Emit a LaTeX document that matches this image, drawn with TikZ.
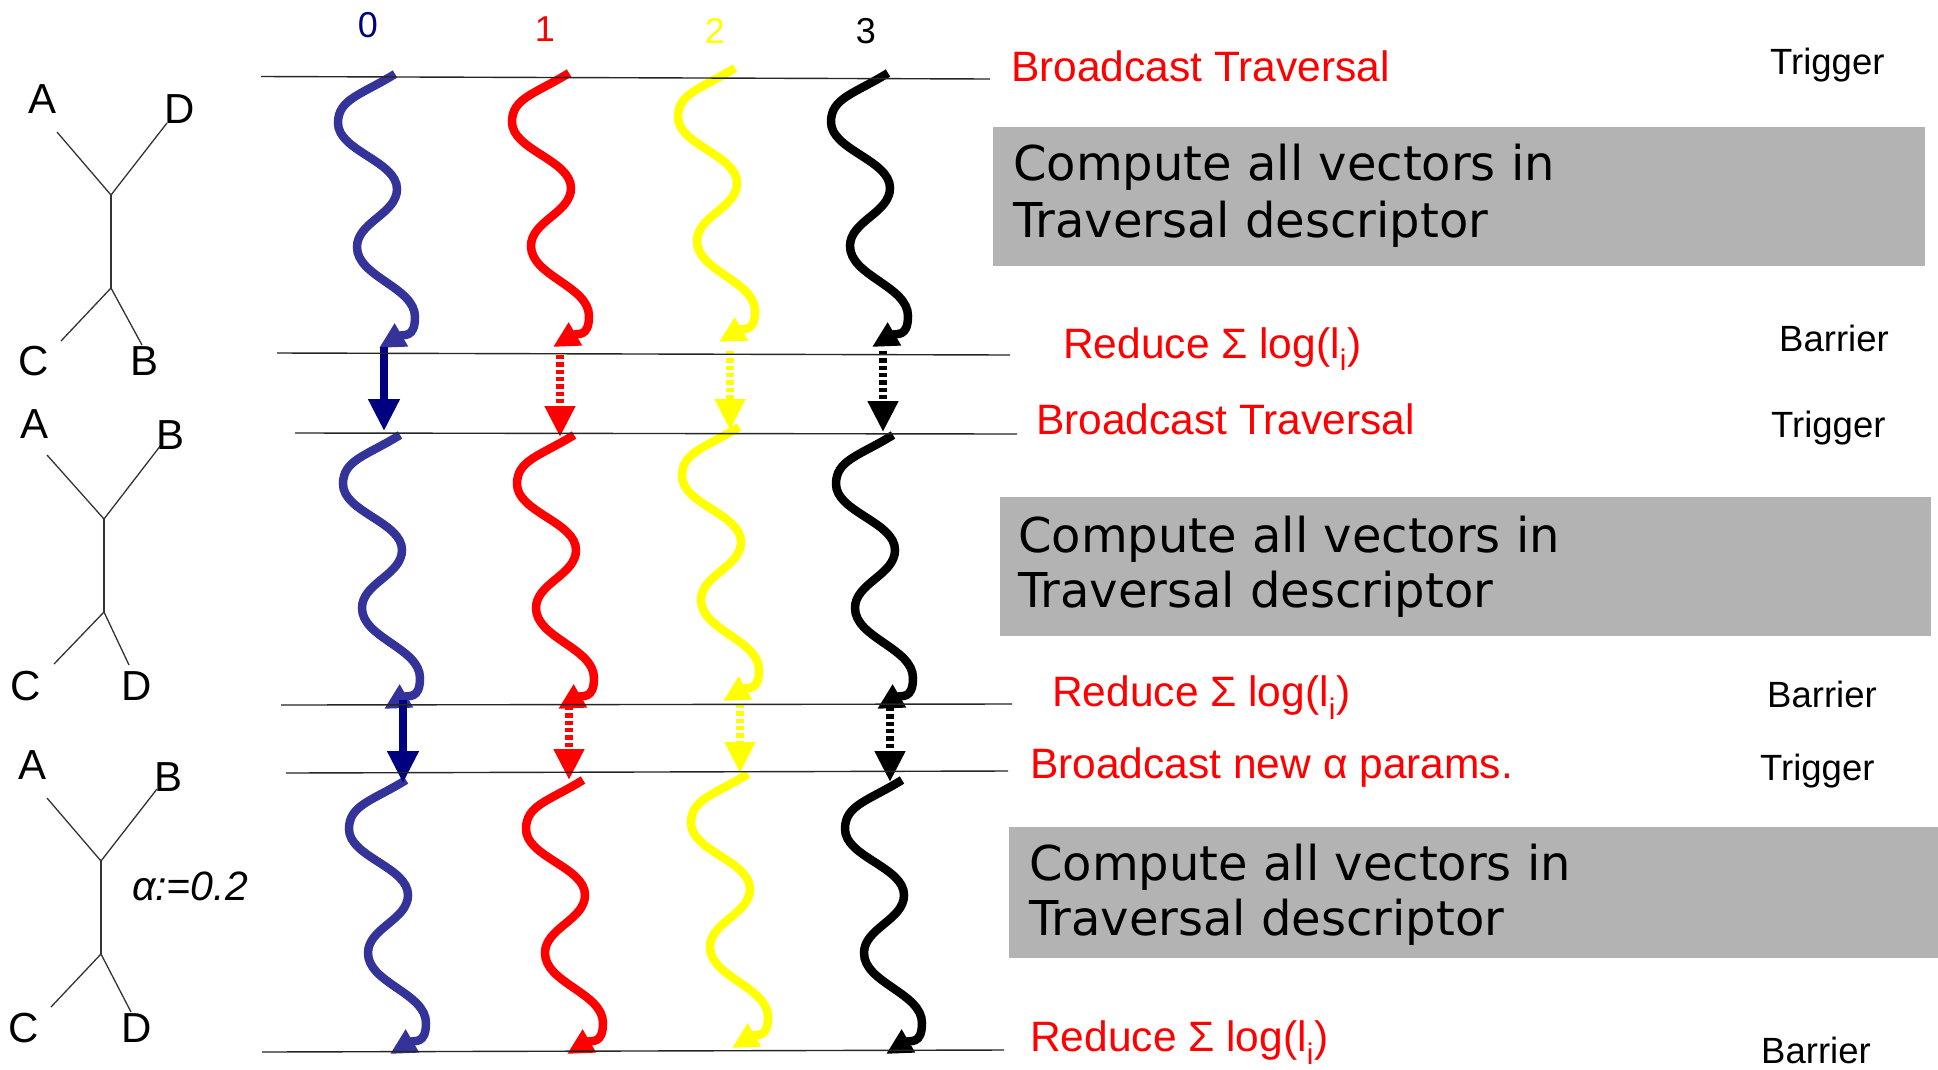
\documentclass[tikz,border=0pt]{standalone}
\usepackage{fontspec}
\setmainfont{Liberation Sans}
\newfontfamily\boxfont{DejaVu Sans}
\usetikzlibrary{arrows.meta}

\definecolor{waveblue}{HTML}{333399}
\definecolor{navyarrow}{HTML}{000080}
\definecolor{boxgray}{HTML}{B3B3B3}
\definecolor{pureyellow}{HTML}{FFFF00}
\definecolor{purered}{HTML}{FF0000}

% One compute phase of a process: a wavy arrow starting at coordinate #2
\newcommand\wavearrow[2]{%
  \begin{scope}[shift={(#2)}]
    \draw[wave,color=#1] (#2)
      .. controls (-34,21) and (-57,25) .. (-57,49)
      .. controls (-57,77) and (2,87) .. (2,115)
      .. controls (2,140) and (-38,148) .. (-38,173)
      .. controls (-38,203) and (20,213) .. (20,243)
      .. controls (20,265) and (8,260) .. (-16,274);
  \end{scope}}

\begin{document}
\begin{tikzpicture}[x=1pt,y=-1pt,
  hline/.style={line width=1.4pt, draw=black!85},
  tree/.style={line width=1.3pt, draw=black!80},
  wave/.style={line width=8.5pt, -{Triangle[length=26pt,width=25pt]}},
  solidarrow/.style={line width=7.5pt, -{Triangle[length=32pt,width=30pt]}},
  dotarrow/.style={line width=7.5pt, dash pattern=on 4.3pt off 3pt, -{Triangle[length=31pt,width=29pt]}},
  phase/.style={font=\fontsize{42.5}{50}\selectfont, text=purered, inner sep=0pt, anchor=base west},
  tag/.style={font=\fontsize{36.5}{43}\selectfont, inner sep=0pt, anchor=base west},
  colnum/.style={font=\fontsize{36}{42}\selectfont, inner sep=0pt, anchor=base},
  leaf/.style={font=\fontsize{42}{50}\selectfont, inner sep=0pt, anchor=base},
  workbox/.style={fill=boxgray, draw=none, inner sep=0pt, anchor=north west},
  worktext/.style={font=\boxfont\fontsize{48}{57}\selectfont, inner sep=0pt, anchor=base west},
]
\fill[white] (0,0) rectangle (1938,1069);
\useasboundingbox (0,0) rectangle (1938,1069);

% ---------- grey work boxes ----------
\node[workbox, minimum width=932pt, minimum height=139pt] (box1) at (993,127) {};
\node[workbox, minimum width=931pt, minimum height=139pt] (box2) at (1000,497) {};
\node[workbox, minimum width=929pt, minimum height=131pt] (box3) at (1009,827) {};
\node[worktext] (box1a) at (1013,180) {Compute all vectors in};
\node[worktext] (box1b) at (1013,237) {Traversal descriptor};
\node[worktext] (box2a) at (1018,552) {Compute all vectors in};
\node[worktext] (box2b) at (1018,607) {Traversal descriptor};
\node[worktext] (box3a) at (1029,880) {Compute all vectors in};
\node[worktext] (box3b) at (1029,935) {Traversal descriptor};

% ---------- process numbers ----------
\node[colnum, text=navyarrow] (p0) at (368,37) {0};
\node[colnum, text=purered] (p1) at (545,41) {1};
\node[colnum, text=pureyellow] (p2) at (715,43) {2};
\node[colnum] (p3) at (866,43) {3};

% ---------- wavy compute arrows ----------
\coordinate (w01) at (395,74);  \coordinate (w11) at (569,73);
\coordinate (w21) at (735,68);  \coordinate (w31) at (888,73);
\coordinate (w02) at (400,435); \coordinate (w12) at (574,435);
\coordinate (w22) at (739,427); \coordinate (w32) at (893,435);
\coordinate (w03) at (406,780); \coordinate (w13) at (583,780);
\coordinate (w23) at (748,774); \coordinate (w33) at (902,780);
\wavearrow{waveblue}{w01}\wavearrow{purered}{w11}\wavearrow{pureyellow}{w21}\wavearrow{black}{w31}
\wavearrow{waveblue}{w02}\wavearrow{purered}{w12}\wavearrow{pureyellow}{w22}\wavearrow{black}{w32}
\wavearrow{waveblue}{w03}\wavearrow{purered}{w13}\wavearrow{pureyellow}{w23}\wavearrow{black}{w33}

% ---------- reduce / broadcast arrows ----------
\coordinate (a0s) at (384,347); \coordinate (a0e) at (384,431);
\coordinate (a1s) at (560,355); \coordinate (a1e) at (560,437);
\coordinate (a2s) at (730,351); \coordinate (a2e) at (730,430);
\coordinate (a3s) at (883,351); \coordinate (a3e) at (883,432);
\coordinate (b0s) at (403,700); \coordinate (b0e) at (403,783);
\coordinate (b1s) at (569,706); \coordinate (b1e) at (569,780);
\coordinate (b2s) at (740,704); \coordinate (b2e) at (740,773);
\coordinate (b3s) at (890,707); \coordinate (b3e) at (890,782);
\draw[solidarrow, navyarrow] (a0s) -- (a0e);
\draw[dotarrow, purered] (a1s) -- (a1e);
\draw[dotarrow, pureyellow] (a2s) -- (a2e);
\draw[dotarrow, black] (a3s) -- (a3e);
\draw[solidarrow, navyarrow] (b0s) -- (b0e);
\draw[dotarrow, purered] (b1s) -- (b1e);
\draw[dotarrow, pureyellow] (b2s) -- (b2e);
\draw[dotarrow, black] (b3s) -- (b3e);

% ---------- synchronisation lines ----------
\coordinate (h1a) at (261,76.5);  \coordinate (h1b) at (990,79);
\coordinate (h2a) at (277,353);   \coordinate (h2b) at (1010,355);
\coordinate (h3a) at (295,433);   \coordinate (h3b) at (1017,434);
\coordinate (h4a) at (281,705);   \coordinate (h4b) at (1012,704);
\coordinate (h5a) at (286,773);   \coordinate (h5b) at (1008,771);
\coordinate (h6a) at (262,1052);  \coordinate (h6b) at (1004,1050);
\foreach \k in {1,...,6} \draw[hline] (h\k a) -- (h\k b);

% ---------- phase labels ----------
\node[phase] (bc1) at (1011,81) {Broadcast Traversal};
\node[phase] (rd1) at (1063,358) {Reduce Σ log(l\textsubscript{i})};
\node[phase] (bc2) at (1036,434) {Broadcast Traversal};
\node[phase] (rd2) at (1052,706) {Reduce Σ log(l\textsubscript{i})};
\node[phase] (bc3) at (1030,778) {Broadcast new α params.};
\node[phase] (rd3) at (1030,1051) {Reduce Σ log(l\textsubscript{i})};

\node[tag] (tg1) at (1770,74) {Trigger};
\node[tag] (br1) at (1779,351) {Barrier};
\node[tag] (tg2) at (1771,437) {Trigger};
\node[tag] (br2) at (1767,707) {Barrier};
\node[tag] (tg3) at (1760,780) {Trigger};
\node[tag] (br3) at (1761,1063) {Barrier};

% ---------- trees ----------
% tree 1
\coordinate (t1u) at (111,195); \coordinate (t1l) at (111,288);
\coordinate (t1A) at (57,132);  \coordinate (t1D) at (167,123);
\coordinate (t1C) at (61,341);  \coordinate (t1B) at (142,345);
\draw[tree] (t1A) -- (t1u) -- (t1D);
\draw[tree] (t1u) -- (t1l);
\draw[tree] (t1C) -- (t1l) -- (t1B);
\node[leaf] (l1A) at (43,113) {A};
\node[leaf] (l1D) at (180,123) {D};
\node[leaf] (l1C) at (34,375) {C};
\node[leaf] (l1B) at (145,375) {B};
% tree 2
\coordinate (t2u) at (104,519); \coordinate (t2l) at (104,612);
\coordinate (t2A) at (47,455);  \coordinate (t2B) at (161,445);
\coordinate (t2C) at (54,664);  \coordinate (t2D) at (129,665);
\draw[tree] (t2A) -- (t2u) -- (t2B);
\draw[tree] (t2u) -- (t2l);
\draw[tree] (t2C) -- (t2l) -- (t2D);
\node[leaf] (l2A) at (35,438) {A};
\node[leaf] (l2B) at (171,449) {B};
\node[leaf] (l2C) at (26,700) {C};
\node[leaf] (l2D) at (137,700) {D};
% tree 3
\coordinate (t3u) at (101,861); \coordinate (t3l) at (101,954);
\coordinate (t3A) at (47,798);  \coordinate (t3B) at (157,789);
\coordinate (t3C) at (51,1007); \coordinate (t3D) at (131,1012);
\draw[tree] (t3A) -- (t3u) -- (t3B);
\draw[tree] (t3u) -- (t3l);
\draw[tree] (t3C) -- (t3l) -- (t3D);
\node[leaf] (l3A) at (33,779) {A};
\node[leaf] (l3B) at (169,791) {B};
\node[leaf] (l3C) at (24,1042) {C};
\node[leaf] (l3D) at (137,1042) {D};
\node[inner sep=0pt, anchor=base west, font=\itshape\fontsize{41}{48}\selectfont] (alpha) at (132,900) {α:=0.2};
\end{tikzpicture}
\end{document}
